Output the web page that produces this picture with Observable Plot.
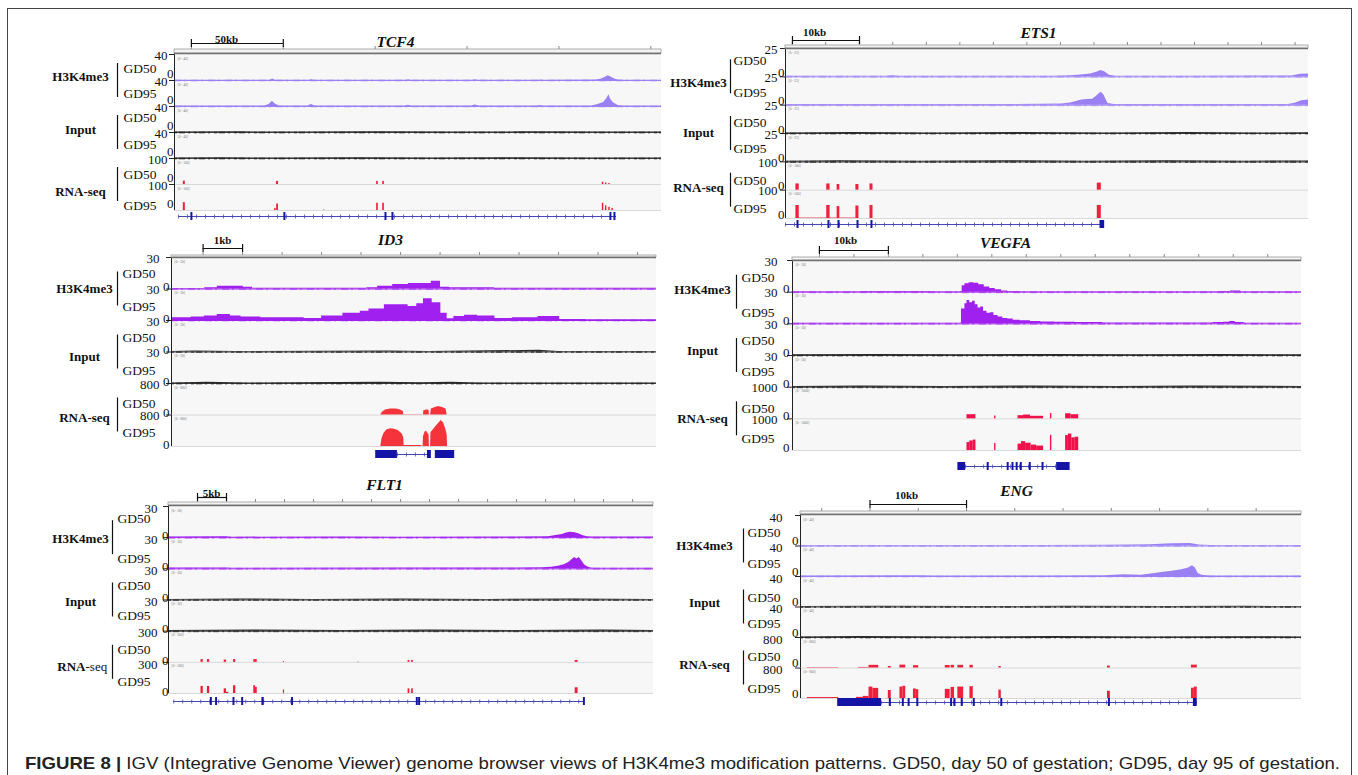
<!DOCTYPE html>
<html>
<head>
<meta charset="utf-8">
<script src="https://cdn.jsdelivr.net/npm/d3@7"></script>
<script src="https://cdn.jsdelivr.net/npm/@observablehq/plot@0.6"></script>
<style>
  html, body { margin: 0; padding: 0; background: #fff; }
  #fig { position: relative; width: 1358px; height: 775px; overflow: hidden; background: #fff; }
  #border { position: absolute; left: 7px; top: 8px; width: 1345px; height: 800px; border: 1.5px solid #444; box-sizing: border-box; }
  #fig svg.panel { position: absolute; }
</style>
</head>
<body>
<div id="fig"><div id="border"></div></div>
<script>
// ---------------- data ----------------
const trackKeys = ["H3K4me3 GD50", "H3K4me3 GD95", "Input GD50", "Input GD95", "RNA-seq GD50", "RNA-seq GD95"];
const groupNames = ["H3K4me3", "Input", "RNA-seq"];
const stageNames = ["GD50", "GD95", "GD50", "GD95", "GD50", "GD95"];
const geneNames = ["TCF4", "ETS1", "ID3", "VEGFA", "FLT1", "ENG"];
const scaleLabels = ["50kb", "10kb", "1kb", "10kb", "5kb", "10kb"];
const spansKb = [265, 78, 12.28, 73.8, 83.6, 51.9];
const trackMaxes = [
  [40, 40, 40, 40, 100, 100],
  [25, 25, 25, 25, 100, 100],
  [30, 30, 30, 30, 800, 800],
  [30, 30, 30, 30, 1000, 1000],
  [30, 30, 30, 30, 300, 300],
  [40, 40, 40, 40, 800, 800]
];
const scaleBars = [[9.2, 59.2], [1.04, 11.04], [0.8, 1.8], [3.9, 13.9], [5, 10], [7.2, 17.2]];
const rulerTicks = [
  [9.2, 59.2, 109.2, 159.2, 209.2, 259.2],
  [1, 6, 11, 16, 21, 26, 31, 36, 41, 46, 51, 56, 61, 66, 71, 76],
  [0.8, 1.8, 2.8, 3.8, 4.8, 5.8, 6.8, 7.8, 8.8, 9.8, 10.8, 11.8],
  [3.9, 8.9, 13.9, 18.9, 23.9, 28.9, 33.9, 38.9, 43.9, 48.9, 53.9, 58.9, 63.9, 68.9],
  [5, 10, 15, 20, 25, 30, 35, 40, 45, 50, 55, 60, 65, 70, 75, 80],
  [2.2, 7.2, 12.2, 17.2, 22.2, 27.2, 32.2, 37.2, 42.2, 47.2]
];

// --- TCF4 ---
const tcf4_h3_gd50 = [[0,0.5],[52,0.5],[53.5,2.5],[55,0.5],[73,0.5],[74.5,1.2],[76,0.5],[126,0.5],[127.5,1],[129,0.5],[162,0.5],[163.7,1.2],[165.5,0.5],[198,0.5],[199.5,0.9],[201,0.5],[229,0.6],[232,2],[234.5,5],[236,7.5],[237.5,5.5],[239.5,2.5],[241.5,0.8],[244,0.5],[265,0.5]];
const tcf4_h3_gd95 = [[0,0.6],[49,0.7],[51.5,3],[53.3,8],[54.8,4],[57,0.8],[72.5,0.7],[74.5,3],[76.5,0.7],[125.5,0.6],[127.3,2],[129,0.6],[161.5,0.6],[163.7,2.5],[166,0.6],[197.5,0.6],[199,1.5],[200.5,0.6],[227,0.8],[230.5,3],[233.5,6],[235.2,12],[236.4,18],[237.3,11],[239,5.5],[241.5,1.5],[244,0.6],[265,0.6]];
const tcf4_in_gd50 = [[0,0.6],[35,1],[70,0.6],[110,1.1],[150,0.6],[190,1],[230,0.7],[265,0.6]];
const tcf4_in_gd95 = [[0,0.7],[25,1.1],[60,0.6],[100,1],[140,0.7],[180,1.1],[225,0.6],[265,0.7]];
const tcf4_rna_gd50 = [[4.8,5.9,13],[55.5,56.6,12],[110,110.9,12],[113.3,114.2,12],[232.8,233.6,9],[234.5,235.3,6],[236.3,237.1,4]];
const tcf4_rna_gd95 = [[4.8,5.9,30],[54.5,55.3,8],[55.6,56.6,25],[81.2,81.8,2],[110,110.9,28],[113.3,114.2,28],[232.8,233.6,28],[234.5,235.3,18],[236.3,237.1,12],[238,238.8,8]];
const tcf4_intron = [2.2, 240.5];
const tcf4_exons = [9.2, 59.8, 114.8, 118.6, 237.2, 239.4];
const tcf4_blocks = [];

// --- ETS1 ---
const ets1_h3_gd50 = [[0,0.5],[15,0.6],[16,1],[17,0.6],[40,0.6],[42.5,1],[44,1.6],[45.5,2.6],[46.4,4],[47,5.5],[47.6,4.5],[48.3,1.5],[49.2,0.6],[60,0.6],[70,0.7],[75.5,0.7],[76.8,2.2],[78,2.4]];
const ets1_h3_gd95 = [[0,0.6],[20,0.6],[38,0.7],[41.2,1],[42.5,2],[43.5,3.5],[44.2,4.5],[45,5],[45.8,5.2],[46.3,7.5],[46.8,10],[47.1,11.5],[47.5,9],[47.8,5],[48.1,1.5],[49,0.6],[65,0.6],[75,0.6],[76,1.8],[77,3.8],[78,4.5]];
const ets1_in_gd50 = [[0,0.5],[10,0.9],[22,0.5],[35,0.8],[48,0.5],[60,0.9],[70,0.5],[78,0.6]];
const ets1_in_gd95 = [[0,0.6],[8,1],[20,0.6],[33,1],[45,0.6],[57,1],[69,0.6],[78,0.7]];
const ets1_rna_gd50 = [[1.55,2.05,22],[6.15,6.65,22],[7.7,8.1,20],[10.5,10.95,20],[12.6,13.05,22],[46.5,47.1,25]];
const ets1_rna_gd95 = [[2.05,10.5,1.5],[1.55,2.05,46],[6.15,6.65,46],[7.7,8.1,42],[10.5,10.95,44],[12.6,13.05,46],[46.5,47.1,46]];
const ets1_intron = [0, 47.4];
const ets1_exons = [1.79, 6.41, 7.9, 10.74, 12.82];
const ets1_blocks = [[46.9, 47.6]];

// --- ID3 ---
const id3_h3_gd50 = [[0,0.5],[0.84,1.2],[1.16,2.6],[1.82,1.6],[2.05,0.6],[4.95,1.3],[5.22,2.7],[5.6,4.3],[6.0,5.3],[6.58,7.5],[6.81,1.6],[7.04,1.1],[7.75,1.3],[8.18,0.6],[12.28,0.6]];
const id3_h3_gd95 = [[0,2.7],[0.5,3.3],[0.83,4.3],[1.16,5.7],[1.49,4.3],[1.76,3.3],[2.26,2.7],[3.36,2],[3.8,4.3],[4.34,7],[4.78,8.7],[5.0,11],[5.39,15],[5.99,13.3],[6.21,16],[6.38,20.7],[6.6,17],[6.82,7],[6.98,1.7],[7.15,3.7],[7.42,5],[7.75,4.3],[8.19,2],[8.63,2.7],[9.28,3.7],[9.83,1],[10.49,0.7],[12.28,0.7]];
const id3_in_gd50 = [[0,0.5],[0.6,1],[1.6,0.5],[5.5,0.9],[6.5,0.5],[9.3,1.6],[9.8,0.5],[12.28,0.5]];
const id3_in_gd95 = [[0,0.5],[0.9,1.3],[1.9,0.5],[5.3,1.3],[6.3,0.6],[7.1,1.3],[7.8,0.5],[12.28,0.5]];
const id3_rna_gd50 = [[5.3,0],[5.34,70],[5.42,130],[5.55,155],[5.7,150],[5.8,125],[5.87,90],[5.88,8],[6.34,8],[6.36,0],[6.38,0],[6.39,110],[6.46,130],[6.52,120],[6.53,0],[6.56,0],[6.58,150],[6.68,190],[6.76,215],[6.86,190],[6.95,150],[6.98,0]];
const id3_rna_gd95 = [[5.3,0],[5.33,200],[5.38,330],[5.45,420],[5.55,450],[5.65,440],[5.75,400],[5.84,320],[5.88,220],[5.89,25],[6.33,25],[6.35,0],[6.37,0],[6.38,250],[6.42,370],[6.46,390],[6.49,330],[6.52,300],[6.53,0],[6.56,0],[6.57,350],[6.65,450],[6.74,560],[6.83,660],[6.89,600],[6.94,450],[6.98,300],[6.99,0]];
const id3_intron = [5.72, 6.48];
const id3_exons = [];
const id3_blocks = [[5.17, 5.72], [6.48, 6.58], [6.68, 7.17]];

// --- VEGFA ---
const vegfa_h3_gd50 = [[0,0.5],[10,0.6],[20,0.5],[24.4,0.6],[24.6,6],[25,8],[25.6,9],[26.3,8.5],[27,7],[27.8,5],[28.6,3.5],[29.4,2.2],[30.3,1.2],[31.2,0.7],[33,0.5],[50,0.5],[62,0.7],[63.5,1],[65,0.5],[73.8,0.5]];
const vegfa_h3_gd95 = [[0,0.6],[24.4,0.7],[24.5,14],[25,19],[25.3,22],[25.7,20],[26.1,21.5],[26.5,18],[26.9,15],[27.3,16],[27.7,12],[28.2,10],[28.7,10.5],[29.2,8],[29.8,6.5],[30.5,5],[31.2,4.5],[32,3.5],[33,3],[34.5,2.2],[36,1.7],[38,1.4],[41,1.2],[45,0.9],[55,0.8],[61,1.2],[62.5,1.6],[63.4,2.3],[64.2,1.2],[65.5,0.6],[73.8,0.6]];
const vegfa_in_gd50 = [[0,0.6],[12,1],[25,0.6],[38,1],[50,0.6],[62,1],[73.8,0.6]];
const vegfa_in_gd95 = [[0,0.7],[10,1.1],[22,0.6],[35,1.1],[47,0.6],[58,1.1],[73.8,0.7]];
const vegfa_rna_gd50 = [[25.3,26.6,130],[29.3,29.5,90],[32.7,33.5,100],[33.5,34.5,120],[34.5,36.4,80],[37.4,37.6,170],[39.6,40.4,160],[40.4,41.5,130]];
const vegfa_rna_gd95 = [[25.3,25.7,250],[25.7,26.2,300],[26.2,26.6,330],[29.3,29.5,220],[32.7,33.2,200],[33.2,33.8,280],[33.8,34.6,230],[34.6,35.4,170],[35.4,36.4,140],[37.4,37.6,480],[39.6,40.0,470],[40.0,40.5,520],[40.5,41.0,400],[41.0,41.5,420]];
const vegfa_intron = [25.1, 38.3];
const vegfa_exons = [28.3, 31.2, 31.9, 32.5, 33.1, 34.4, 36.25];
const vegfa_blocks = [[23.98, 25.1], [38.3, 40.25]];

// --- FLT1 ---
const flt1_h3_gd50 = [[0,0.6],[10,0.8],[11,0.5],[30,0.6],[40,0.5],[60,0.7],[65.5,1],[66.5,1.8],[67.9,3],[68.6,4.5],[69.3,5.2],[70.1,4.8],[70.8,3.5],[71.5,1.8],[72.2,0.8],[73,0.6],[83.6,0.6]];
const flt1_h3_gd95 = [[0,0.7],[10,0.9],[11,0.6],[40,0.7],[60,0.7],[64.5,1],[66,1.6],[67.2,2.6],[68.2,4],[69,6],[69.6,9],[70,11],[70.4,9.5],[70.8,11],[71.2,8],[71.7,4],[72.2,2],[72.8,0.8],[73.5,0.6],[83.6,0.6]];
const flt1_in_gd50 = [[0,0.6],[12,1],[25,0.6],[40,1],[55,0.6],[70,1],[83.6,0.6]];
const flt1_in_gd95 = [[0,0.7],[15,1.1],[30,0.6],[45,1.1],[60,0.6],[75,1.1],[83.6,0.7]];
const flt1_rna_gd50 = [[5.6,6.0,26],[6.7,7.1,26],[9.6,10.0,22],[11.2,11.6,26],[14.7,15.3,26],[19.8,20.0,8],[32.6,32.9,3],[41.3,41.6,18],[41.9,42.2,18],[70.1,70.6,18]];
const flt1_rna_gd95 = [[5.6,6.0,68],[6.7,7.1,68],[9.6,10.0,45],[10.0,10.4,12],[11.2,11.6,75],[14.7,15.0,75],[15.0,15.3,60],[19.8,20.0,35],[41.3,41.6,45],[41.9,42.2,45],[70.1,70.6,55]];
const flt1_intron = [0.9, 71.6];
const flt1_exons = [7.3, 8.2, 11.2, 12.7, 21.3, 42.8, 43.2, 71.6];
const flt1_blocks = [[16.1, 16.5]];

// --- ENG ---
const eng_h3_gd50 = [[0,0.6],[15,0.8],[25,0.7],[31.6,0.9],[34,1.3],[36.2,1.8],[38.5,2.8],[40.4,3.2],[41.3,1.2],[42.5,0.7],[51.9,0.6]];
const eng_h3_gd95 = [[0,0.7],[12,1],[14,0.7],[25,0.8],[31.5,1],[33.5,2.2],[35.3,1.8],[36.7,4],[37.6,5.5],[38.5,7],[39.5,9],[40.2,11],[40.6,14],[40.9,11],[41.2,4],[41.6,1.5],[42.5,0.8],[51.9,0.7]];
const eng_in_gd50 = [[0,0.6],[8,1],[18,0.6],[28,1],[38,0.6],[46,1],[51.9,0.6]];
const eng_in_gd95 = [[0,0.7],[6,1.2],[16,0.7],[26,1.2],[36,0.7],[45,1.1],[51.9,0.7]];
const eng_rna_gd50 = [[0.7,3.95,10],[6.0,7.1,15],[7.1,8.1,70],[9.1,9.4,40],[10.3,10.9,75],[11.7,12.25,60],[15.0,15.5,65],[15.6,15.95,70],[16.3,16.9,70],[17.55,17.9,70],[20.55,20.8,40],[31.8,32.1,50],[40.5,41.1,75]];
const eng_rna_gd95 = [[0.7,3.95,25],[5.8,6.5,30],[6.5,7.1,55],[7.1,7.5,300],[7.5,8.1,265],[9.1,9.4,210],[10.3,10.6,300],[10.6,10.9,320],[11.7,12.0,250],[12.0,12.25,230],[15.0,15.5,240],[15.6,15.95,290],[16.3,16.9,300],[17.55,17.9,310],[20.55,20.8,220],[31.8,32.1,190],[40.5,40.8,270],[40.8,41.1,300]];
const eng_intron = [8.4, 41.1];
const eng_exons = [9.25, 10.6, 11.2, 12.1, 15.6, 15.95, 16.7, 17.95, 20.8, 31.95];
const eng_blocks = [[3.85, 8.4], [40.7, 41.1]];

const captionBold = "FIGURE 8 | ";
const captionText = "IGV (Integrative Genome Viewer) genome browser views of H3K4me3 modification patterns. GD50, day 50 of gestation; GD95, day 95 of gestation.";

// ---------------- layout (pixels) ----------------
const layouts = [
  {left:174, right:661, top:54, bottom:210, titleX:395, titleDy:-12, rulerA:-5, rulerB:-1, barDy:-11, labDy:-15, labX:226, groupDx:-94, bracketDx:-57, gdDx:-51, maxDx:-7, maxDy:1, zeroDx:-1, zeroDy:-7, geneDy:6, gdDy:[1,0,-2,-1,3,8], groupDy:[-4,-3,7], h3Color:"#9b80f3", rnaColor:"#f0203c", curve:"linear", split:false},
  {left:785, right:1308, top:48, bottom:218, titleX:1038, titleDy:-15, rulerA:-3, rulerB:0, barDy:-8, labDy:-16, labX:814, groupDx:-87, bracketDx:-55, gdDx:-52, maxDx:-8, maxDy:1, zeroDx:-1, zeroDy:-4, geneDy:6, gdDy:[-2,2,3,1,5,4], groupDy:[6,-1,-2], h3Color:"#9b80f3", rnaColor:"#f0203c", curve:"linear", split:false},
  {left:171, right:656, top:257, bottom:446, titleX:390, titleDy:-17, rulerA:-2, rulerB:0, barDy:-9, labDy:-17, labX:222, groupDx:-87, bracketDx:-54, gdDx:-49, maxDx:-12, maxDy:1, zeroDx:-2, zeroDy:-2, geneDy:8, gdDy:[0,2,1,3,4,2], groupDy:[0,5,3], h3Color:"#a020f0", rnaColor:"#f5333a", curve:"step-after", split:false},
  {left:792, right:1301, top:260, bottom:450, titleX:1005, titleDy:-17, rulerA:-3, rulerB:0, barDy:-10, labDy:-20, labX:845, groupDx:-90, bracketDx:-56, gdDx:-51, maxDx:-15, maxDy:1, zeroDx:-3, zeroDy:-3, geneDy:16, gdDy:[1,5,1,0,6,4], groupDy:[-2,-5,0], h3Color:"#a020f0", rnaColor:"#f0104a", curve:"step-after", split:false},
  {left:168, right:653, top:506, bottom:693, titleX:384, titleDy:-21, rulerA:-4, rulerB:-1, barDy:-9, labDy:-13, labX:211, groupDx:-88, bracketDx:-56, gdDx:-51, maxDx:-11, maxDy:2, zeroDx:0, zeroDy:-2, geneDy:8, gdDy:[-3,5,1,0,3,4], groupDy:[1,2,4], h3Color:"#a020f0", rnaColor:"#f0203c", curve:"linear", split:true},
  {left:800, right:1301, top:515, bottom:698, titleX:1016, titleDy:-24, rulerA:-4, rulerB:-1, barDy:-11, labDy:-20, labX:906, groupDx:-96, bracketDx:-57, gdDx:-53, maxDx:-18, maxDy:2, zeroDx:-2, zeroDy:-5, geneDy:4, gdDy:[2,2,6,1,4,5], groupDy:[0,-4,-3], h3Color:"#9b80f3", rnaColor:"#f0203c", curve:"linear", split:false}
];

const panelSignals = [
  [tcf4_h3_gd50, tcf4_h3_gd95, tcf4_in_gd50, tcf4_in_gd95, tcf4_rna_gd50, tcf4_rna_gd95],
  [ets1_h3_gd50, ets1_h3_gd95, ets1_in_gd50, ets1_in_gd95, ets1_rna_gd50, ets1_rna_gd95],
  [id3_h3_gd50, id3_h3_gd95, id3_in_gd50, id3_in_gd95, id3_rna_gd50, id3_rna_gd95],
  [vegfa_h3_gd50, vegfa_h3_gd95, vegfa_in_gd50, vegfa_in_gd95, vegfa_rna_gd50, vegfa_rna_gd95],
  [flt1_h3_gd50, flt1_h3_gd95, flt1_in_gd50, flt1_in_gd95, flt1_rna_gd50, flt1_rna_gd95],
  [eng_h3_gd50, eng_h3_gd95, eng_in_gd50, eng_in_gd95, eng_rna_gd50, eng_rna_gd95]
];
const panelGenes = [
  {intron: tcf4_intron, exons: tcf4_exons, blocks: tcf4_blocks},
  {intron: ets1_intron, exons: ets1_exons, blocks: ets1_blocks},
  {intron: id3_intron, exons: id3_exons, blocks: id3_blocks},
  {intron: vegfa_intron, exons: vegfa_exons, blocks: vegfa_blocks},
  {intron: flt1_intron, exons: flt1_exons, blocks: flt1_blocks},
  {intron: eng_intron, exons: eng_exons, blocks: eng_blocks}
];

// ---------------- rendering ----------------
const kinds = ["h3", "h3", "input", "input", "rna", "rna"];
const fig = document.getElementById("fig");

function renderPanel(p) {
  const L = layouts[p];
  const span = spansKb[p];
  const maxes = trackMaxes[p];
  const H = (L.bottom - L.top) / 6;
  const mL = 130, mT = 45, mR = 6, mB = 26;
  const W = L.right - L.left;
  const width = W + mL + mR;
  const height = (L.bottom - L.top) + mT + mB;
  const kx = px => px * span / W;
  const uy = px => px / H;
  const first = trackKeys[0], last = trackKeys[5];

  const tracks = trackKeys.map((key, i) => ({key, i, kind: kinds[i], stage: stageNames[i], max: maxes[i]}));
  const pts = [], bins = [];
  panelSignals[p].forEach((s, i) => {
    s.forEach(r => {
      if (r.length === 3) bins.push({key: trackKeys[i], kind: kinds[i], x1: r[0], x2: r[1], y: r[2] / maxes[i]});
      else pts.push({key: trackKeys[i], kind: kinds[i], x: r[0], y: r[1] / maxes[i]});
    });
  });
  const byKind = k => tracks.filter(t => t.kind === k);
  const groups = groupNames.map((name, j) => ({key: trackKeys[j * 2], name, j}));
  const hdr = [{key: first}];
  const G = panelGenes[p];

  const marks = [
    Plot.rect(tracks, {fy: "key", x1: 0, x2: span, y1: 0, y2: 1, fill: "#f7f7f7"}),
    Plot.ruleY(byKind("rna"), {fy: "key", y: 0, x1: 0, x2: span, stroke: "#d8d8d8", strokeWidth: 1}),
    Plot.ruleY(byKind("h3"), {fy: "key", y: 0, x1: 0, x2: span, stroke: L.h3Color, strokeWidth: 1}),
    Plot.ruleY(byKind("h3"), {fy: "key", y: 0, x1: 0, x2: span, stroke: L.h3Color, strokeWidth: 2, strokeOpacity: 0.45, strokeDasharray: "7,3,2,5"}),
    Plot.ruleY(byKind("input"), {fy: "key", y: 0, x1: 0, x2: span, stroke: "#3a3a3a", strokeWidth: 1.2}),
    Plot.ruleY(byKind("input"), {fy: "key", y: 0, x1: 0, x2: span, stroke: "#1a1a1a", strokeWidth: 2.2, strokeOpacity: 0.55, strokeDasharray: "3,2,6,3,2,4"}),
    Plot.areaY(pts.filter(d => d.kind === "h3"), {fy: "key", x: "x", y: "y", z: "key", fill: L.h3Color, curve: L.curve}),
    Plot.areaY(pts.filter(d => d.kind === "input"), {fy: "key", x: "x", y: "y", z: "key", fill: "#2a2a2a", curve: "linear"}),
    Plot.areaY(pts.filter(d => d.kind === "rna"), {fy: "key", x: "x", y: "y", z: "key", fill: L.rnaColor, curve: "linear"}),
    Plot.rect(bins.filter(d => d.kind === "rna"), {fy: "key", x1: "x1", x2: "x2", y1: 0, y2: "y", fill: L.rnaColor}),
    Plot.ruleX(tracks, {fy: "key", x: 0, y1: 0, y2: 1, stroke: "#222", strokeWidth: 1}),
    Plot.ruleY(tracks, {fy: "key", y: 1, x1: -kx(5), x2: 0, stroke: "#222", strokeWidth: 1}),
    Plot.text(tracks, {fy: "key", x: 0, y: 1 - uy(L.maxDy), dx: L.maxDx, textAnchor: "end", text: d => String(d.max), fontSize: 13, fill: "#111"}),
    Plot.text(tracks, {fy: "key", x: 0, y: -uy(L.zeroDy), dx: L.zeroDx, textAnchor: "end", text: d => "0", fontSize: 13, fill: "#111"}),
    Plot.text(tracks, {fy: "key", x: 0, y: 1 - uy(4), dx: 3, textAnchor: "start", text: d => `[0 - ${d.max}]`, fontSize: 3.5, fill: "#777"}),
    Plot.text(tracks, {fy: "key", x: 0, y: d => 0.5 - uy(L.gdDy[d.i]), dx: L.gdDx, textAnchor: "start", text: d => d.stage, fontSize: 13.5, fill: "#111"}),
    Plot.ruleX(groups, {fy: "key", x: 0, dx: L.bracketDx, y1: uy(17), y2: -uy(17), stroke: "#111", strokeWidth: 1.2}),
    Plot.text(groups.filter(g => !(L.split && g.name === "RNA-seq")), {fy: "key", x: 0, y: d => -uy(L.groupDy[d.j]), dx: L.groupDx, textAnchor: "middle", text: d => d.name, fontSize: 13, fontWeight: "bold", fill: "#111"}),
    Plot.text(groups.filter(g => L.split && g.name === "RNA-seq"), {fy: "key", x: 0, y: d => -uy(L.groupDy[d.j]), dx: L.groupDx + 5, textAnchor: "end", text: d => d.name.split("-")[0], fontSize: 13, fontWeight: "bold", fill: "#111"}),
    Plot.text(groups.filter(g => L.split && g.name === "RNA-seq"), {fy: "key", x: 0, y: d => -uy(L.groupDy[d.j]), dx: L.groupDx + 5, textAnchor: "start", text: d => "-" + d.name.split("-")[1], fontSize: 13, fontWeight: "normal", fill: "#111"}),
    Plot.rect(hdr, {fy: "key", x1: 0, x2: span, y1: 1 - uy(L.rulerA), y2: 1 - uy(L.rulerB), fill: "#f3f3f3", stroke: "#9a9a9a", strokeWidth: 0.8}),
    Plot.ruleY(hdr, {fy: "key", y: 1 - uy(L.rulerB), x1: 0, x2: span, stroke: "#707070", strokeWidth: 1.6}),
    Plot.ruleX(rulerTicks[p], {fy: d => first, x: d => d, y1: 1 - uy(L.rulerA), y2: 1 - uy(L.rulerA - 3), stroke: "#8a8a8a", strokeWidth: 1}),
    Plot.ruleY([scaleBars[p]], {fy: d => first, x1: d => d[0], x2: d => d[1], y: 1 - uy(L.barDy), stroke: "#111", strokeWidth: 1.2}),
    Plot.ruleX(scaleBars[p], {fy: d => first, x: d => d, y1: 1 - uy(L.barDy - 4), y2: 1 - uy(L.barDy + 4), stroke: "#111", strokeWidth: 1.2}),
    Plot.text(hdr, {fy: "key", x: 0, y: 1 - uy(L.labDy), dx: L.labX - L.left, textAnchor: "middle", text: d => scaleLabels[p], fontSize: 11, fontWeight: "bold", fill: "#111"}),
    Plot.text(hdr, {fy: "key", x: 0, y: 1 - uy(L.titleDy), dx: L.titleX - L.left, textAnchor: "middle", text: d => geneNames[p], fontSize: 15.5, fontWeight: "bold", fontStyle: "italic", fill: "#111"}),
    Plot.ruleY([G.intron], {fy: d => last, x1: d => d[0], x2: d => d[1], y: -uy(L.geneDy), stroke: "#4646b4", strokeWidth: 1}),
    Plot.ruleY([G.intron], {fy: d => last, x1: d => d[0], x2: d => d[1], y: -uy(L.geneDy), stroke: "#4646b4", strokeWidth: 4, strokeOpacity: 0.8, strokeDasharray: "1,8"}),
    Plot.ruleX(G.exons, {fy: d => last, x: d => d, y1: -uy(L.geneDy - 4), y2: -uy(L.geneDy + 4), stroke: "#1515a8", strokeWidth: 2}),
    Plot.rect(G.blocks, {fy: d => last, x1: d => d[0], x2: d => d[1], y1: -uy(L.geneDy - 4), y2: -uy(L.geneDy + 4), fill: "#1414a6"})
  ];

  const svg = Plot.plot({
    width, height,
    marginLeft: mL, marginRight: mR, marginTop: mT, marginBottom: mB,
    x: {domain: [0, span], axis: null},
    y: {domain: [0, 1], axis: null},
    fy: {domain: trackKeys, padding: 0, round: false, axis: null},
    facet: {marginTop: 0, marginRight: 0, marginBottom: 0, marginLeft: 0},
    style: {fontFamily: "'Liberation Serif', 'Times New Roman', serif", fontSize: "13px", background: "transparent", overflow: "visible"},
    marks
  });
  svg.classList.add("panel");
  svg.style.left = (L.left - mL) + "px";
  svg.style.top = (L.top - mT) + "px";
  fig.appendChild(svg);
}

for (let p = 0; p < 6; p++) renderPanel(p);

// caption
const ns = "http://www.w3.org/2000/svg";
const cap = document.createElementNS(ns, "svg");
cap.setAttribute("width", 1358); cap.setAttribute("height", 775);
cap.style.position = "absolute"; cap.style.left = "0px"; cap.style.top = "0px";
const t = document.createElementNS(ns, "text");
t.setAttribute("x", 25); t.setAttribute("y", 769);
t.setAttribute("font-family", "'Liberation Sans', Arial, sans-serif");
t.setAttribute("font-size", 17);
t.setAttribute("fill", "#222");
t.setAttribute("textLength", 1315);
t.setAttribute("lengthAdjust", "spacingAndGlyphs");
const tb = document.createElementNS(ns, "tspan");
tb.setAttribute("font-weight", "bold");
tb.textContent = captionBold;
const tr = document.createElementNS(ns, "tspan");
tr.textContent = captionText;
t.appendChild(tb); t.appendChild(tr);
cap.appendChild(t);
fig.appendChild(cap);
</script>
</body>
</html>
